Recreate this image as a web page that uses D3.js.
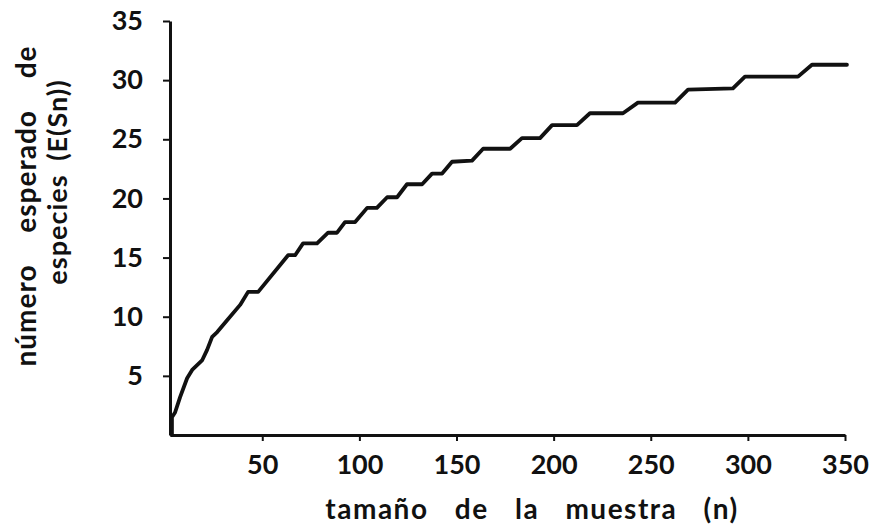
<!DOCTYPE html>
<html>
<head>
<meta charset="utf-8">
<script src="https://cdn.jsdelivr.net/npm/d3@7"></script>
<style>
  body { margin: 0; background: #fff; }
  svg { display: block; }
  text { font-family: Lato, "DejaVu Sans", sans-serif; font-weight: bold; fill: #111; }
</style>
</head>
<body>
<svg width="878" height="528"></svg>
<script>
// sample size n and expected species E(Sn)
var sampleN = [3.5, 3.5, 5.1, 7.7, 11.3, 13.9, 19, 21.6, 24.2, 26.8, 31.9, 38.6,
  42.7, 47.9, 63.3, 66.9, 71, 78.2, 83.9, 88.5, 92.6, 97.8, 104, 109, 114.3, 119.4,
  124.5, 132.3, 137.4, 142.6, 147.7, 158, 163.7, 177.6, 183.7, 193, 199.2, 212,
  218.7, 235.7, 243.4, 262.5, 269.2, 292.3, 298.5, 325.8, 333, 351];
var expectedS = [0, 1.5, 1.9, 3.2, 4.8, 5.5, 6.3, 7.2, 8.3, 8.7, 9.7, 11,
  12.1, 12.1, 15.2, 15.2, 16.2, 16.2, 17.1, 17.1, 18, 18, 19.2, 19.2, 20.1, 20.1,
  21.2, 21.2, 22.1, 22.1, 23.1, 23.2, 24.2, 24.2, 25.1, 25.1, 26.2, 26.2,
  27.2, 27.2, 28.1, 28.1, 29.2, 29.3, 30.3, 30.3, 31.3, 31.3];

var xTicks = [50, 100, 150, 200, 250, 300, 350];
var yTicks = [5, 10, 15, 20, 25, 30, 35];
var xTitle = "tamaño de la muestra (n)";
var yTitle1 = "número esperado de";
var yTitle2 = "especies (E(Sn))";

var svg = d3.select("svg");

var x = d3.scaleLinear().domain([2.5, 350]).range([170, 845]);
var y = d3.scaleLinear().domain([0, 35]).range([435, 21]);

var points = sampleN.map(function(n, i) { return [n, expectedS[i]]; });

// axes
var yAxis = svg.append("g")
    .attr("transform", "translate(" + x(2.5) + ",0)")
    .call(d3.axisLeft(y).tickValues(yTicks).tickSize(7).tickSizeOuter(0).tickPadding(20));

var xAxis = svg.append("g")
    .attr("transform", "translate(0," + y(0) + ")")
    .call(d3.axisBottom(x).tickValues(xTicks).tickSize(6).tickSizeOuter(0).tickPadding(14));

[xAxis, yAxis].forEach(function(g) {
  g.select(".domain").attr("stroke", "#111").attr("stroke-width", 3);
  g.selectAll(".tick line").attr("stroke", "#111").attr("stroke-width", 2);
  g.selectAll(".tick text")
      .style("font-family", "Lato, 'DejaVu Sans', sans-serif")
      .style("font-weight", "bold")
      .style("font-size", "27px")
      .attr("fill", "#111");
});

// curve
svg.append("path")
    .datum(points)
    .attr("fill", "none")
    .attr("stroke", "#111")
    .attr("stroke-width", 3.8)
    .attr("stroke-linejoin", "round")
    .attr("stroke-linecap", "round")
    .attr("d", d3.line()
        .x(function(d) { return x(d[0]); })
        .y(function(d) { return y(d[1]); }));

// titles
svg.append("text")
    .attr("x", 532)
    .attr("y", 519)
    .attr("text-anchor", "middle")
    .style("font-size", "28px")
    .style("word-spacing", "18px")
    .style("letter-spacing", "1.5px")
    .text(xTitle);

svg.append("text")
    .attr("transform", "translate(36,206) rotate(-90)")
    .attr("text-anchor", "middle")
    .style("font-size", "28px")
    .style("word-spacing", "24px")
    .style("letter-spacing", "1px")
    .text(yTitle1);

svg.append("text")
    .attr("transform", "translate(67,182) rotate(-90)")
    .attr("text-anchor", "middle")
    .style("font-size", "27px")
    .style("word-spacing", "6px")
    .style("letter-spacing", "1px")
    .text(yTitle2);
</script>
</body>
</html>
